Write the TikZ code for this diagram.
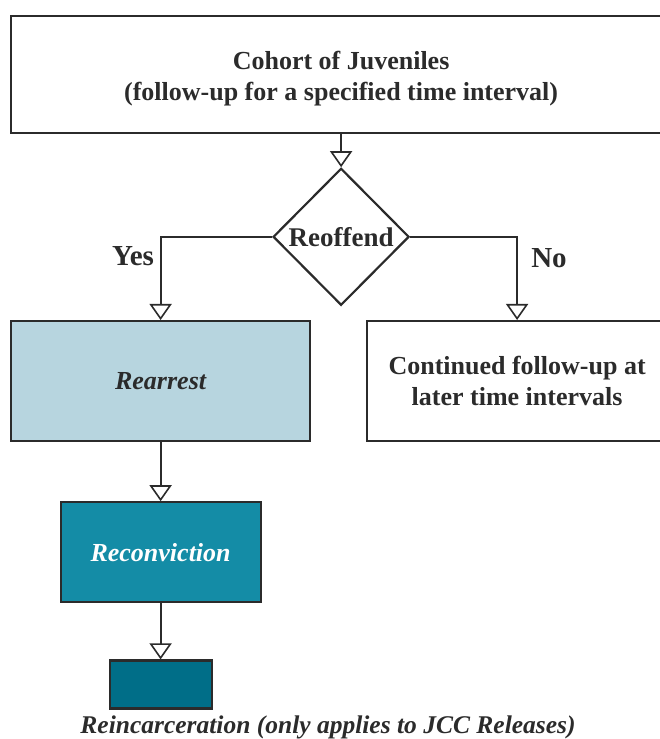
\documentclass[tikz,border=0pt]{standalone}
\usepackage{fontspec}
\setmainfont{Liberation Serif}
\usepackage{xcolor}
\usetikzlibrary{arrows.meta,positioning,shapes.geometric}
\definecolor{inkgray}{HTML}{2B2B2B}
\definecolor{rearrestblue}{HTML}{B7D5DF}
\definecolor{convteal}{HTML}{148CA6}
\definecolor{reincteal}{HTML}{006E88}

\begin{document}
\begin{tikzpicture}[x=1pt,y=1pt,
  font=\bfseries\fontsize{26}{31}\selectfont, text=inkgray,
  >={Triangle[open,length=16pt,width=22pt,line width=1.6pt]},
  conn/.style={draw=inkgray,line width=1.9pt},
  bx/.style={draw=inkgray,line width=2.2pt,align=center,inner sep=0pt},
  dec/.style={bx,diamond,minimum width=136pt,minimum height=137pt,aspect=1,font=\bfseries\fontsize{27}{32}\selectfont},
  rearr/.style={bx,fill=rearrestblue,minimum width=299pt,minimum height=120pt,font=\bfseries\itshape\fontsize{26}{32}\selectfont},
  conv/.style={bx,fill=convteal,minimum width=200pt,minimum height=100pt,text=white,font=\bfseries\itshape\fontsize{26}{32}\selectfont},
  reinc/.style={bx,fill=reincteal,minimum width=102pt,minimum height=48pt},
  lab/.style={font=\bfseries\fontsize{29}{32}\selectfont}]
\useasboundingbox (0,0) rectangle (660,739);
\clip (0,0) rectangle (660,739);
% top of the flow
\node[bx,minimum width=660pt,minimum height=117pt,anchor=north west] (cohort) at (10,724)
  {\rule{0pt}{26pt}Cohort of Juveniles\\(follow-up for a specified time interval)};
\node[dec,below=33pt of cohort] (reoffend) {Reoffend};
% the two branches
\node[rearr,anchor=north west] (rearrest) at (10,419) {Rearrest};
\node[bx,minimum width=300pt,minimum height=120pt,anchor=north west] (later) at (366,419)
  {Continued follow-up at\\later time intervals};
\node[lab] (yes) at (133,483) {Yes};
\node[lab] (no) at (549,481) {No};
% rearrest chain
\node[conv,below=59pt of rearrest] (reconv) {Reconviction};
\node[reinc,below=56pt of reconv] (reinc) {};
\node[font=\bfseries\itshape\fontsize{25.5}{32}\selectfont] (reinclab) at (328,12)
  {Reincarceration (only applies to JCC Releases)};
\draw[conn,->] (cohort) -- (reoffend);
\draw[conn,->] (reoffend.west) -| (rearrest.north);
\draw[conn,->] (reoffend.east) -| (later.north);
\foreach \x/\y in {rearrest/reconv,reconv/reinc} \draw[conn,->] (\x) -- (\y);
\end{tikzpicture}
\end{document}
